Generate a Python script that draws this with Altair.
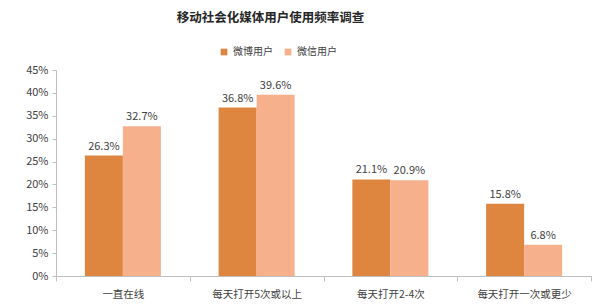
import altair as alt
import pandas as pd

categories = ["一直在线", "每天打开5次或以上", "每天打开2-4次", "每天打开一次或更少"]
series_names = ["微博用户", "微信用户"]
weibo = [0.263, 0.368, 0.211, 0.158]
weixin = [0.327, 0.396, 0.209, 0.068]
y_ticks = [0, 0.05, 0.10, 0.15, 0.20, 0.25, 0.30, 0.35, 0.40, 0.45]

rows = []
for c, a, b in zip(categories, weibo, weixin):
    rows.append({"cat": c, "series": series_names[0], "value": a})
    rows.append({"cat": c, "series": series_names[1], "value": b})
df = pd.DataFrame(rows)

FONT = "Noto Sans CJK SC"

x = alt.X("cat:N", sort=categories, title=None,
          scale=alt.Scale(paddingInner=0, paddingOuter=0),
          axis=alt.Axis(labelAngle=0, tickBand="extent", domainColor="#bfbfbf",
                        tickColor="#bfbfbf", tickSize=5, labelPadding=8,
                        labelFontSize=10.5, labelColor="#404040", labelFont=FONT))
xo = alt.XOffset("series:N", sort=series_names,
                 scale=alt.Scale(paddingInner=0, paddingOuter=0.76))
y = alt.Y("value:Q", title=None,
          scale=alt.Scale(domain=[0, 0.45], nice=False),
          axis=alt.Axis(values=y_ticks, format=".0%", grid=False, domainColor="#bfbfbf",
                        tickColor="#bfbfbf", tickSize=4, labelPadding=4,
                        labelFontSize=11, labelColor="#404040", labelFont=FONT))
color = alt.Color("series:N", sort=series_names,
                  scale=alt.Scale(domain=series_names, range=["#DE853F", "#F6B18C"]),
                  legend=alt.Legend(title=None, orient="none", direction="horizontal",
                                    legendX=163, legendY=-23, symbolType="square",
                                    symbolSize=45, labelFontSize=10, labelColor="#404040",
                                    labelFont=FONT, columnPadding=10, symbolStrokeWidth=0))

bars = alt.Chart(df).mark_bar().encode(x=x, xOffset=xo, y=y, color=color)
labels = alt.Chart(df).mark_text(dy=-9, fontSize=11, color="#404040", font=FONT).encode(
    x=x, xOffset=xo, y=y, text=alt.Text("value:Q", format=".1%"))

chart = (bars + labels).properties(
    width=535, height=206,
    title=alt.TitleParams("移动社会化媒体用户使用频率调查", anchor="start", dx=151,
                          offset=23, fontSize=12.5, fontWeight="bold", color="#262626", font=FONT),
    autosize=alt.AutoSizeParams(type="none"),
    padding={"left": 56, "top": 70, "right": 12, "bottom": 31},
    background="white",
).configure_view(stroke=None)

chart.save("out.html", embed_options={"renderer": "svg", "actions": False})
